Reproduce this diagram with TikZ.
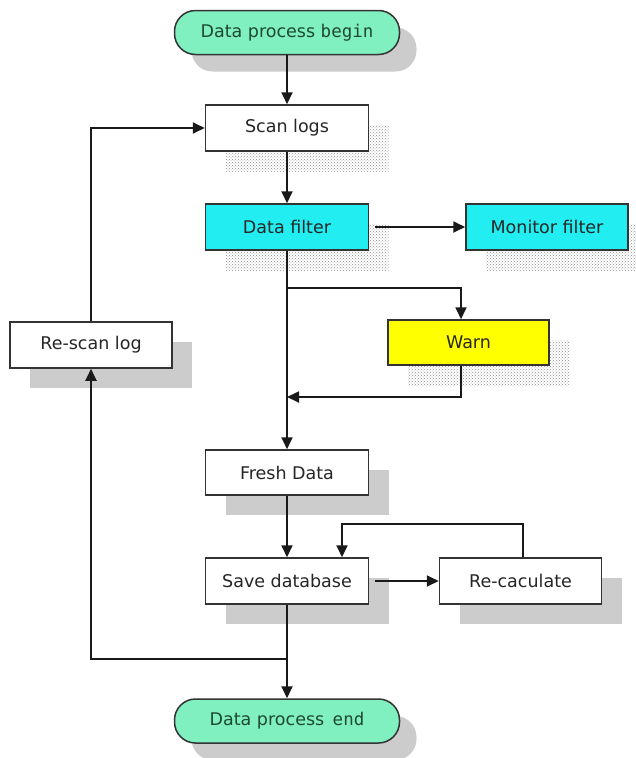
\documentclass[tikz,border=0pt]{standalone}
\usepackage{fontspec}
\setmainfont{DejaVu Sans}
\newfontfamily\monofont{DejaVu Sans Mono}
\usetikzlibrary{arrows.meta,shadows,patterns}
\definecolor{mint}{HTML}{80F0C0}
\definecolor{cyanbox}{HTML}{22EEF2}
\definecolor{yel}{HTML}{FFFF00}
\definecolor{txt}{HTML}{262626}
\definecolor{termtxt}{HTML}{1E4A30}
\begin{document}
\begin{tikzpicture}[x=1pt,y=-1pt,
  font=\fontsize{17.5}{20}\selectfont,
  box/.style={draw=black!80, line width=1.5pt, minimum width=163pt, minimum height=46pt, inner sep=0pt, text=txt, fill=white},
  solidsh/.style={drop shadow={shadow xshift=20pt,shadow yshift=-20pt,opacity=1,fill=gray!40}},
  dotsh/.style={drop shadow={shadow xshift=20pt,shadow yshift=-20pt,opacity=1,pattern=crosshatch dots,pattern color=gray!85}},
  term/.style={box, rounded corners=21pt, fill=mint, minimum width=225pt, minimum height=44pt, text=termtxt,
    drop shadow={shadow xshift=17pt,shadow yshift=-17pt,opacity=1,fill=gray!40}},
  arr/.style={-{Triangle[length=12pt,width=11pt]}, line width=1.8pt, draw=black!90}
]
\useasboundingbox (0,0) rectangle (635,758);
% nodes
\node[term] (begin) at (287,32.5) {Data process {\monofont begin}};
\node[box,dotsh] (scan) at (287,128) {Scan logs};
\node[box,dotsh,fill=cyanbox] (filter) at (287,227) {Data filter};
\node[box,dotsh,fill=cyanbox,minimum width=162pt] (monitor) at (547,227) {Monitor filter};
\node[box,dotsh,fill=yel,minimum width=161pt,minimum height=45pt] (warn) at (468.5,342.5) {Warn};
\node[box,solidsh,minimum width=162pt] (rescan) at (91,345) {Re-scan log};
\node[box,solidsh,minimum height=45pt] (fresh) at (287,472.5) {Fresh Data};
\node[box,solidsh,minimum height=46pt] (save) at (287,581) {Save database};
\node[box,solidsh,minimum width=162pt,minimum height=46pt] (recalc) at (520.5,581) {Re-caculate};
\node[term] (end) at (287,721) {Data process \,{\monofont end}};
% helper coordinates
\coordinate (br) at (287,288);
\coordinate (wx) at (461,288);
\coordinate (mg) at (287,397);
\coordinate (rt) at (523,524);
\coordinate (st) at (342,524);
\coordinate (lb) at (287,659);
\coordinate (ll) at (91,659);
\coordinate (lt) at (91,128);
% connectors
\draw[arr] (begin) -- (scan);
\draw[arr] (scan) -- (filter);
\draw[arr] ([xshift=6pt]filter.east) -- (monitor.west);
\draw[arr] (filter) -- (fresh);
\draw[arr] (br) -| (warn.north -| wx);
\draw[arr] (warn.south -| wx) |- (mg);
\draw[arr] (fresh) -- (save);
\draw[arr] ([xshift=6pt]save.east) -- (recalc.west);
\draw[arr] (recalc.north -| rt) -- (rt) -- (st) -- (save.north -| st);
\draw[arr] (save) -- (end);
\draw[arr] (lb) -- (ll) -- (rescan.south);
\draw[arr] (rescan.north) -- (lt) -- (scan.west);
\end{tikzpicture}
\end{document}
